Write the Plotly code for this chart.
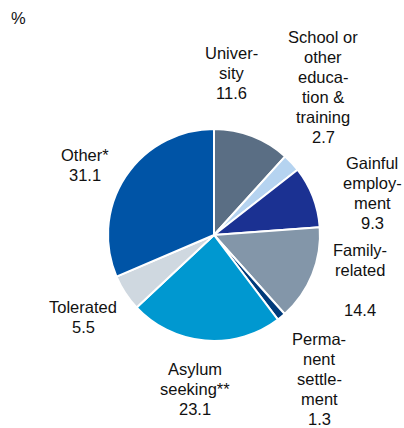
import plotly.graph_objects as go

# Shares of residence purposes, in %, clockwise from 12 o'clock
categories = [
    "University",
    "School or other education & training",
    "Gainful employment",
    "Family-related",
    "Permanent settlement",
    "Asylum seeking**",
    "Tolerated",
    "Other*",
]
values = [11.6, 2.7, 9.3, 14.4, 1.3, 23.1, 5.5, 31.1]

# Hyphenated label lines as printed next to each slice
label_lines = [
    ["Univer-", "sity"],
    ["School or", "other", "educa-", "tion &", "training"],
    ["Gainful", "employ-", "ment"],
    ["Family-", "related", ""],
    ["Perma-", "nent", "settle-", "ment"],
    ["Asylum", "seeking**"],
    ["Tolerated"],
    ["Other*"],
]

colors = ["#5a6e84", "#b5d3f0", "#1b3192", "#8396a9",
          "#003a7a", "#0098d0", "#cfd8e0", "#0054a6"]

W, H = 404, 428
cx, cy, r = 214, 235, 106

fig = go.Figure(go.Pie(
    labels=categories,
    values=values,
    sort=False,
    direction="clockwise",
    rotation=0,
    textinfo="none",
    hoverinfo="label+value",
    marker=dict(colors=colors, line=dict(color="white", width=2)),
    domain=dict(x=[(cx - r) / W, (cx + r) / W],
                y=[(H - cy - r) / H, (H - cy + r) / H]),
    showlegend=False,
))

# Label anchor: centre x and y of first line, in pixels from top-left
label_pos = [
    (232, 53),
    (323, 37),
    (372, 163),
    (360, 250),
    (319, 339),
    (195, 369),
    (83, 307),
    (85, 155),
]
line_h = 20
font = dict(family="Liberation Sans, Arial, sans-serif", size=16.5, color="#111111")

annotations = []
for lines, val, (x, y) in zip(label_lines, values, label_pos):
    for i, txt in enumerate(lines + [f"{val:.1f}"]):
        if not txt:
            continue
        annotations.append(dict(
            x=x / W, y=1 - (y + i * line_h) / H, xref="paper", yref="paper",
            text=txt, showarrow=False, xanchor="center", yanchor="middle",
            font=font,
        ))

annotations.append(dict(
    x=18 / W, y=1 - 18 / H, xref="paper", yref="paper", text="%",
    showarrow=False, xanchor="center", yanchor="middle", font=font,
))

fig.update_layout(
    width=W, height=H,
    margin=dict(l=0, r=0, t=0, b=0),
    paper_bgcolor="white", plot_bgcolor="white",
    annotations=annotations,
)

fig.write_html("out.html")
